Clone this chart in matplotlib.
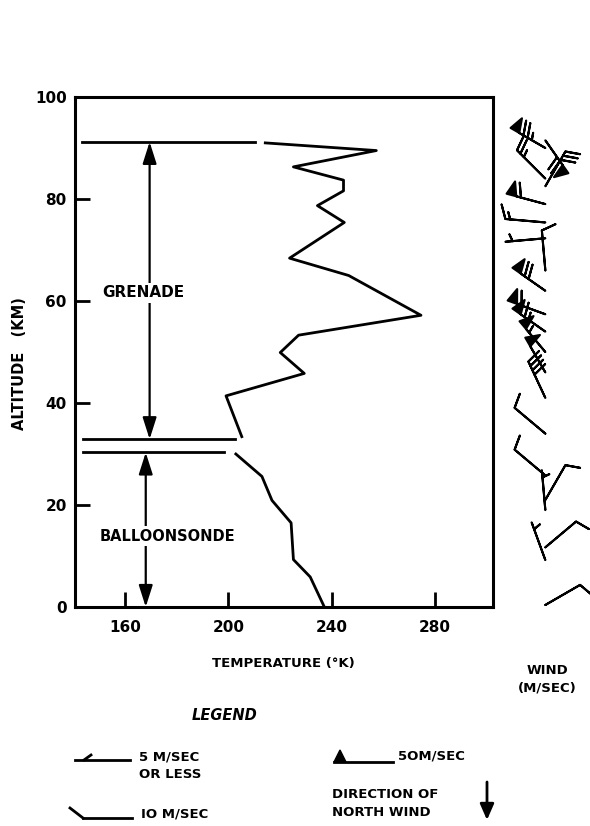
import numpy as np
import matplotlib
matplotlib.use('Agg')
import matplotlib.pyplot as plt
from matplotlib.patches import Polygon

# ---------------------------------------------------------------------------
# Temperature profile (deg K) vs altitude (km)
# ---------------------------------------------------------------------------
grenade_alt = [91.0, 89.5, 86.3, 83.7, 81.6, 78.7, 75.4, 68.4, 65.0, 57.2,
               53.3, 49.9, 45.8, 41.4, 33.4]
grenade_temp = [214.3, 257.3, 225.2, 244.6, 244.6, 234.5, 244.9, 223.7, 246.6,
                274.6, 227.2, 220.1, 229.4, 199.1, 205.2]

balloon_alt = [30.0, 25.6, 20.9, 16.5, 9.3, 5.9, 0.3]
balloon_temp = [202.9, 213.0, 216.9, 224.3, 225.2, 231.7, 236.9]

# range markers: (altitude, temp start, temp end)
grenade_top = (91.2, 143.3, 210.4)
grenade_bottom = (32.9, 143.7, 202.5)
balloon_top = (30.3, 143.7, 198.4)

# wind barbs: altitude (km), speed (m/s), direction wind comes from (deg)
wind_alt = [91.5, 90.0, 84.0, 82.5, 79.0, 75.4, 72.3, 66.0, 62.0, 57.4,
            54.0, 50.0, 46.0, 41.0, 34.0, 25.8, 21.0, 19.0, 11.7, 9.2, 0.4]
wind_speed = [70, 75, 25, 30, 60, 15, 5, 10, 70, 60,
              65, 55, 50, 40, 10, 10, 10, 5, 10, 5, 10]
wind_dir = [145, 300, 315, 30, 285, 275, 265, 355, 305, 290,
            305, 320, 330, 335, 310, 310, 30, 355, 50, 340, 60]

xticks = [160, 200, 240, 280]
yticks = [0, 20, 40, 60, 80, 100]

W, H = 590, 826
fig = plt.figure(figsize=(W / 100, H / 100), dpi=100)

FONT = dict(fontweight='bold', family='DejaVu Sans')
ARROW = '<|-|>,head_length=1.1,head_width=0.35'

# main axes
ax = fig.add_axes([75 / W, 1 - 607 / H, 418 / W, 510 / H])
ax.set_xlim(140.6, 302.5)
ax.set_ylim(0, 100)
for s in ax.spines.values():
    s.set_linewidth(2.2)
ax.set_xticks(xticks)
ax.set_yticks(yticks)
ax.tick_params(direction='in', length=11, width=2, labelsize=11)
ax.tick_params(axis='x', pad=9)
ax.tick_params(axis='y', pad=6)
for lab in ax.get_xticklabels() + ax.get_yticklabels():
    lab.set_fontweight('bold')

ax.plot(grenade_temp, grenade_alt, color='black', lw=2)
ax.plot(balloon_temp, balloon_alt, color='black', lw=2)

for a, t0, t1 in (grenade_top, grenade_bottom, balloon_top):
    ax.plot([t0, t1], [a, a], color='black', lw=2)

# measurement range arrows
ax.annotate('', xy=(169.5, grenade_top[0]), xytext=(169.5, grenade_bottom[0]),
            arrowprops=dict(arrowstyle=ARROW, color='black', lw=1.6,
                            mutation_scale=12, shrinkA=0, shrinkB=0))
ax.annotate('', xy=(168, balloon_top[0]), xytext=(168, 0),
            arrowprops=dict(arrowstyle=ARROW, color='black', lw=1.6,
                            mutation_scale=12, shrinkA=0, shrinkB=0))
ax.text(167, 61.6, 'GRENADE', ha='center', va='center', fontsize=11,
        **FONT, bbox=dict(facecolor='white', edgecolor='none', pad=2))
ax.text(176.3, 13.9, 'BALLOONSONDE', ha='center', va='center', fontsize=10.5,
        **FONT, bbox=dict(facecolor='white', edgecolor='none', pad=2))

# wind column
wax = fig.add_axes([495 / W, 1 - 607 / H, 95 / W, 510 / H])
wax.set_xlim(0, 1)
wax.set_ylim(0, 100)
wax.axis('off')
d = np.radians(wind_dir)
sp = np.array(wind_speed, dtype=float)
u = -sp * np.sin(d)
v = -sp * np.cos(d)
wax.barbs(np.full(len(wind_alt), 0.53), wind_alt, u, v, length=7.6,
          linewidth=1.5, color='black',
          barb_increments=dict(half=5, full=10, flag=50),
          sizes=dict(spacing=0.12, height=0.35, width=0.25))

# text labels
fig.text(20 / W, 1 - 364 / H, 'ALTITUDE   (KM)', rotation=90, ha='center',
         va='center', fontsize=10.5, **FONT)
fig.text(283 / W, 1 - 663 / H, 'TEMPERATURE (°K)', ha='center', va='center',
         fontsize=9.5, **FONT)
fig.text(547 / W, 1 - 670 / H, 'WIND', ha='center', va='center',
         fontsize=9.5, **FONT)
fig.text(547 / W, 1 - 688 / H, '(M/SEC)', ha='center', va='center',
         fontsize=9.5, **FONT)
fig.text(225 / W, 1 - 716 / H, 'LEGEND', ha='center', va='center',
         fontsize=10.5, fontstyle='italic', **FONT)

# legend symbols drawn in pixel space
lax = fig.add_axes([0, 0, 1, 1])
lax.set_xlim(0, W)
lax.set_ylim(H, 0)
lax.axis('off')
lax.plot([75, 130], [760, 760], color='black', lw=2)
lax.plot([84, 91], [760, 755], color='black', lw=2)
lax.plot([83, 132], [818, 818], color='black', lw=2)
lax.plot([83, 70], [818, 808], color='black', lw=2)
lax.add_patch(Polygon([(334, 762), (340, 750), (346, 762)], closed=True,
                      color='black'))
lax.plot([334, 393], [762, 762], color='black', lw=2)
lax.annotate('', xy=(487, 820), xytext=(487, 782),
             arrowprops=dict(arrowstyle='-|>,head_length=0.8,head_width=0.35',
                             color='black', lw=2,
                             mutation_scale=12, shrinkA=0, shrinkB=0))

fig.text(139 / W, 1 - 757 / H, '5 M/SEC', ha='left', va='center',
         fontsize=9.5, **FONT)
fig.text(139 / W, 1 - 775 / H, 'OR LESS', ha='left', va='center',
         fontsize=9.5, **FONT)
fig.text(141 / W, 1 - 814 / H, 'IO M/SEC', ha='left', va='center',
         fontsize=9.5, **FONT)
fig.text(398 / W, 1 - 756 / H, '5OM/SEC', ha='left', va='center',
         fontsize=9.5, **FONT)
fig.text(332 / W, 1 - 794 / H, 'DIRECTION OF', ha='left', va='center',
         fontsize=9.5, **FONT)
fig.text(332 / W, 1 - 812 / H, 'NORTH WIND', ha='left', va='center',
         fontsize=9.5, **FONT)

fig.savefig('out.png', dpi=100)
